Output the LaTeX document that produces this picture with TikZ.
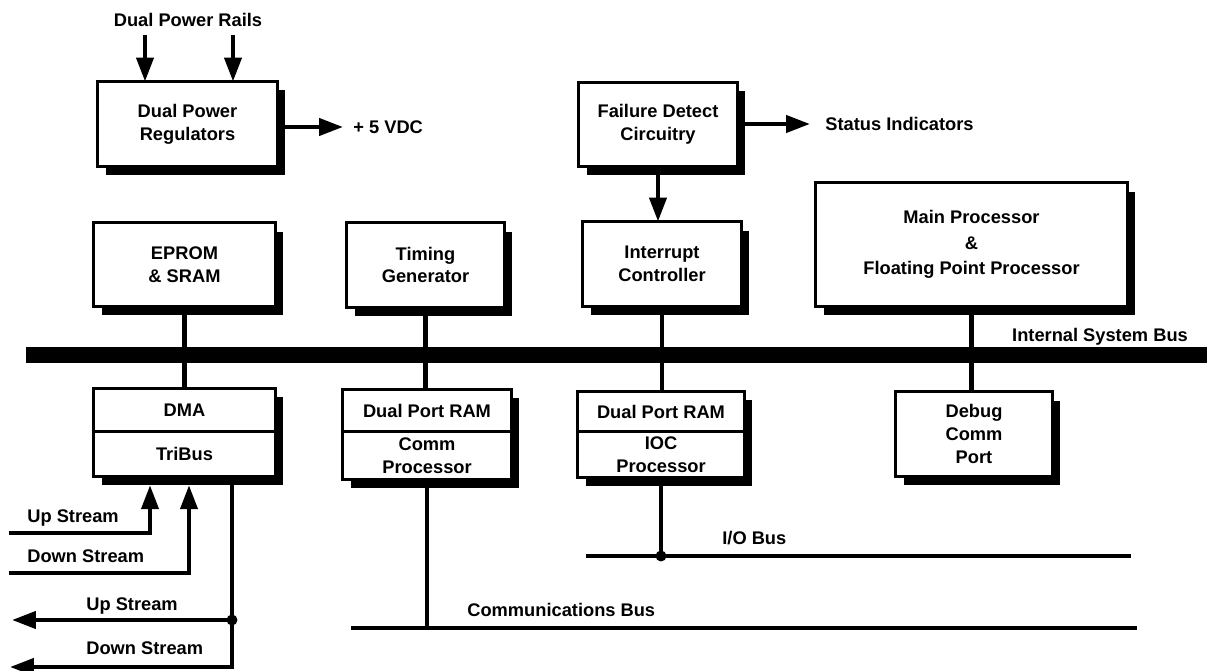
\documentclass[tikz,border=0pt]{standalone}
\usepackage{fontspec}
\setmainfont{Liberation Sans}
\usetikzlibrary{positioning}
\usetikzlibrary{shadows}
\usetikzlibrary{arrows.meta}
\usetikzlibrary{calc}

\begin{document}
\begin{tikzpicture}[x=0.02cm,y=-0.02cm,
  txt/.style={font=\fontsize{10.4}{13}\selectfont\bfseries},
  blk/.style={txt, draw, fill=white, line width=1.8pt, align=center, inner sep=0pt, outer sep=0pt,
    drop shadow={shadow xshift=0.16cm, shadow yshift=-0.18cm, fill=black, opacity=1}},
  wire/.style={line width=2.4pt},
  thinbus/.style={line width=2.4pt},
  arr/.style={wire, -{Triangle[length=0.48cm,width=0.34cm]}},
  lbl/.style={txt, inner sep=0pt},
]
\useasboundingbox (0,0) rectangle (1207,671);
% top row
\node[blk, minimum width=3.6cm, minimum height=1.7cm] (pwr) at (187.5,124) {Dual Power\\Regulators};
\node[blk, minimum width=3.18cm, minimum height=1.68cm] (fail) at (658,124.5) {Failure Detect\\Circuitry};
% boxes above the bus
\node[blk, minimum width=3.64cm, minimum height=1.68cm] (eprom) at (184.5,264.5) {EPROM\\\& SRAM};
\node[blk, minimum width=3.16cm, minimum height=1.7cm] (timing) at (425.5,265) {Timing\\Generator};
\node[blk, minimum width=3.18cm, minimum height=1.7cm] (intr) at (662,264) {Interrupt\\Controller};
\node[blk, minimum width=6.24cm, minimum height=2.48cm] (mainp) at (971.5,244.5) {Main Processor\\[1.5pt]\&\\[1.5pt]Floating Point Processor};
% boxes below the bus
\node[blk, minimum width=3.64cm, minimum height=0.87cm] (dma) at (184.5,410) {DMA};
\node[blk, minimum width=3.64cm, minimum height=0.89cm, below=0pt of dma] (tribus) {TriBus};
\node[blk, minimum width=3.38cm, minimum height=0.85cm] (cram) at (427,410.5) {Dual Port RAM};
\node[blk, minimum width=3.38cm, minimum height=0.95cm, below=0pt of cram] (cproc) {Comm\\Processor};
\node[blk, minimum width=3.34cm, minimum height=0.81cm] (iram) at (661,411.5) {Dual Port RAM};
\node[blk, minimum width=3.34cm, minimum height=0.91cm, below=0pt of iram] (iproc) {IOC\\Processor};
\node[blk, minimum width=3.14cm, minimum height=1.7cm] (debug) at (974,434) {Debug\\Comm\\Port};
% power in and out
\node[lbl] (rails) at (188,20) {Dual Power Rails};
\coordinate (r1) at (145,35);
\coordinate (r2) at (233,35);
\draw[arr] (r1) -- (r1 |- pwr.north);
\draw[arr] (r2) -- (r2 |- pwr.north);
\node[lbl, anchor=west] (vdc) at (353,127) {+ 5 VDC};
\draw[arr] (pwr.east |- vdc.west) -- ([xshift=-0.2cm]vdc.west);
% failure detect
\node[lbl, anchor=west] (stat) at (825,124) {Status Indicators};
\draw[arr] (fail.east |- stat.west) -- ([xshift=-0.3cm]stat.west);
\draw[arr] (fail.south) -- (fail.south |- intr.north);
% drops to the bus
\draw[wire] (eprom.south) -- (dma.north);
\draw[wire] (timing.south) -- (timing.south |- cram.north);
\draw[wire] (intr.south) -- (intr.south |- iram.north);
\draw[wire] (mainp.south) -- (mainp.south |- debug.north);
% internal system bus
\coordinate (busL) at (26,355);
\coordinate (busR) at (1207,355);
\draw[line width=0.31cm] (busL) -- (busR);
\node[lbl] (isb) at (1100,337) {Internal System Bus};
% I/O bus
\coordinate (ioL) at (586,556);
\coordinate (ioR) at (1131,556);
\draw[thinbus] (ioL) -- (ioR);
\coordinate (iojn) at (iproc.south |- ioL);
\draw[wire] (iproc.south) -- (iojn);
\fill (iojn) circle (0.11cm);
\node[lbl, anchor=west] (iob) at (722,538) {I/O Bus};
% communications bus
\coordinate (cbL) at (351,628);
\coordinate (cbR) at (1137,628);
\draw[thinbus] (cbL) -- (cbR);
\draw[wire] (cproc.south) -- (cproc.south |- cbL);
\node[lbl, anchor=west] (cbus) at (467,610) {Communications Bus};
% tribus streams
\coordinate (uin) at (9,533);
\coordinate (din) at (9,573);
\draw[arr] (uin) -| ([xshift=-0.69cm,yshift=-0.18cm]tribus.south);
\draw[arr] (din) -| ([xshift=0.09cm,yshift=-0.18cm]tribus.south);
\coordinate (tout) at ([xshift=0.95cm]tribus.south);
\coordinate (uout) at (12,620);
\coordinate (dout) at (10,667);
\coordinate (ujn) at (tout |- uout);
\draw[arr] (tout) |- (dout);
\draw[arr] (ujn) -- (uout);
\fill (ujn) circle (0.11cm);
\node[lbl, anchor=west] (uinl) at (27,518) {Up Stream};
\node[lbl, anchor=west] (dinl) at (27,556) {Down Stream};
\node[lbl, anchor=west] (uoutl) at (86,606) {Up Stream};
\node[lbl, anchor=west] (doutl) at (86,648) {Down Stream};
\end{tikzpicture}
\end{document}
